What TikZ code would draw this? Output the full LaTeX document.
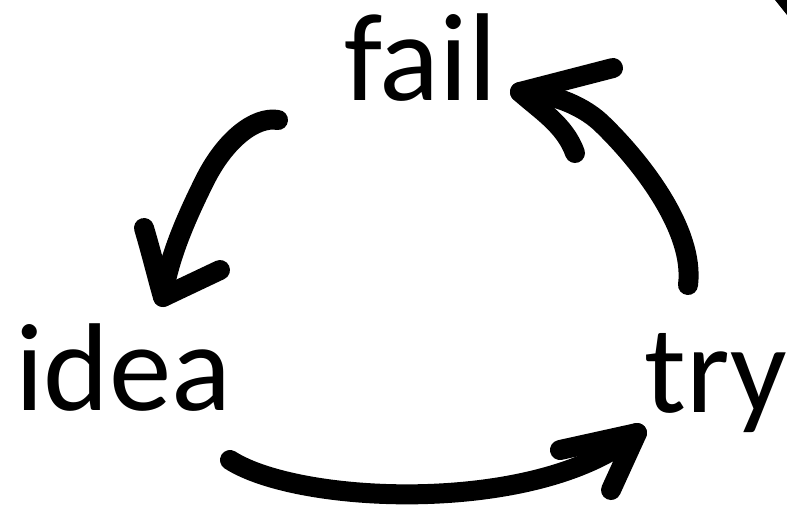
\documentclass[tikz,border=0pt]{standalone}
\usepackage{fontspec}
\setmainfont{Carlito}
\begin{document}
\begin{tikzpicture}[x=1pt,y=-1pt,
  lbl/.style={inner sep=0pt, anchor=base, font=\fontsize{125}{125}\selectfont},
  stroke/.style={line width=20pt, line cap=round, line join=round, black}]
\useasboundingbox (0,0) rectangle (787,517);
% labels
\node[lbl] (fail) at (420.5,100) {fail};
\node[lbl] (idea) at (123.5,410) {idea};
\node[lbl] (try)  at (716,412) {try};
% corner mark
\fill (775,0) -- (787,0) -- (787,15) -- cycle;
% arrow fail -> idea
\coordinate (a1s) at (278,120);
\coordinate (a1m) at (205,180);
\coordinate (a1t) at (163,297);
\coordinate (a1l) at (144,228);
\coordinate (a1r) at (220,270);
\draw[stroke] (a1s) .. controls (255,116) and (225,140) .. (a1m)
  .. controls (185,220) and (168,260) .. (a1t);
\draw[stroke] (a1l) .. controls (152,255) and (158,280) .. (a1t) -- (a1r);
% arrow idea -> try
\coordinate (a2s) at (230,460);
\coordinate (a2t) at (637,433);
\coordinate (a2u) at (560,450);
\coordinate (a2d) at (611,490);
\draw[stroke] (a2s) .. controls (300,505) and (540,515) .. (a2t);
\draw[stroke] (a2u) -- (a2t) -- (a2d);
% arrow try -> fail
\coordinate (a3s) at (688,285);
\coordinate (a3m) at (600,122);
\coordinate (a3t) at (520,92);
\coordinate (a3u) at (613,68);
\coordinate (a3d) at (575,153);
\draw[stroke] (a3s) .. controls (695,230) and (640,160) .. (a3m)
  .. controls (580,104) and (550,93) .. (a3t);
\draw[stroke] (a3u) -- (a3t) .. controls (540,110) and (565,125) .. (a3d);
\end{tikzpicture}
\end{document}
